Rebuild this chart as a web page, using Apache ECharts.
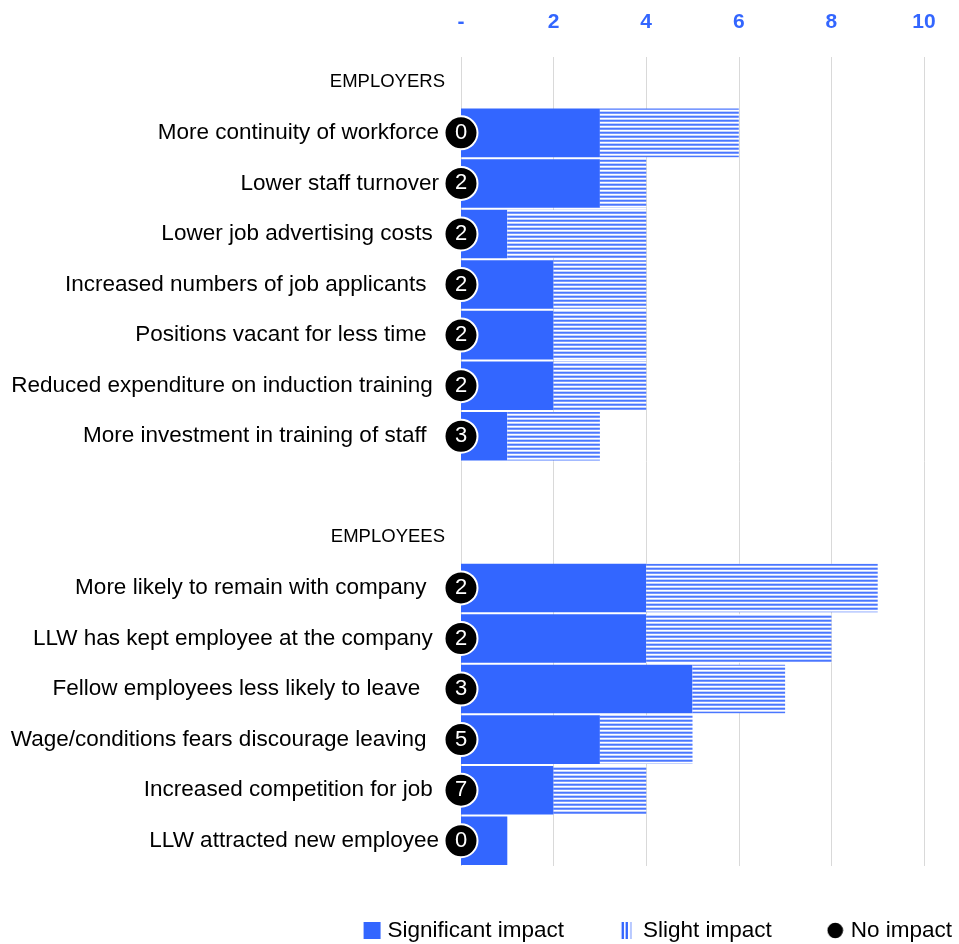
<!DOCTYPE html>
<html>
<head>
<meta charset="utf-8">
<script src="https://cdn.jsdelivr.net/npm/echarts@6/dist/echarts.min.js"></script>
<style>
  html, body { margin: 0; padding: 0; background: #fff; }
  #chart { width: 959px; height: 944px; }
</style>
</head>
<body>
<div id="chart"></div>
<script>
// Rows top to bottom; section headers and the spacer row carry no bars.
const categories = [
  'EMPLOYERS',
  'More continuity of workforce',
  'Lower staff turnover',
  'Lower job advertising costs ',
  'Increased numbers of job applicants  ',
  'Positions vacant for less time  ',
  'Reduced expenditure on induction training ',
  'More investment in training of staff  ',
  '',
  'EMPLOYEES',
  'More likely to remain with company  ',
  'LLW has kept employee at the company ',
  'Fellow employees less likely to leave   ',
  'Wage/conditions fears discourage leaving  ',
  'Increased competition for job ',
  'LLW attracted new employee'
];
const headers = ['EMPLOYERS', 'EMPLOYEES'];

const significant = [null, 3, 3, 1, 2, 2, 2, 1, null, null, 4, 4, 5, 3, 2, 1];
const slight      = [null, 3, 1, 3, 2, 2, 2, 2, null, null, 5, 4, 2, 2, 2, 0];
const noImpact    = [null, 0, 2, 2, 2, 2, 2, 3, null, null, 2, 2, 3, 5, 7, 0];

const xTicks = ['-', '2', '4', '6', '8', '10'];

const BLUE = '#3366ff';

// Horizontal stripe fill for "Slight impact"
const stripeH = document.createElement('canvas');
stripeH.width = 4; stripeH.height = 4;
(function () {
  const g = stripeH.getContext('2d');
  ['#4a77ff', '#7a99ff', '#ffffff', '#c2d1ff'].forEach((col, i) => {
    g.fillStyle = col; g.fillRect(0, i, 4, 1);
  });
})();

// Legend icon: vertical stripes
const iconC = document.createElement('canvas');
iconC.width = 17; iconC.height = 17;
(function () {
  const g = iconC.getContext('2d');
  [[1, '#b8c9ff'], [2, BLUE], [3, BLUE], [4, '#ffffff'], [5, '#b8c9ff'], [6, BLUE], [7, BLUE], [8, '#ffffff'], [9, '#ffffff'], [10, '#b8c9ff'], [11, '#b8c9ff']].forEach(([x, col]) => {
    g.fillStyle = col; g.fillRect(x + 1, 0, 1, 17);
  });
})();

// Legend icon: black dot
const dotC = document.createElement('canvas');
dotC.width = 17; dotC.height = 17;
(function () {
  const g = dotC.getContext('2d');
  g.fillStyle = '#000';
  g.beginPath(); g.arc(8.5, 8.5, 7.8, 0, Math.PI * 2); g.fill();
})();

const chart = echarts.init(document.getElementById('chart'));

const FONT = '"Liberation Sans", Arial, sans-serif';

chart.setOption({
  animation: false,
  backgroundColor: '#ffffff',
  textStyle: { fontFamily: FONT },
  grid: { left: 461, right: 35, top: 57, bottom: 78, containLabel: false },
  xAxis: {
    type: 'value',
    position: 'top',
    min: 0,
    max: 10,
    interval: 2,
    axisLine: { show: false },
    axisTick: { show: false },
    splitLine: { show: true, lineStyle: { color: '#d9d9d9', width: 1 } },
    axisLabel: {
      margin: 24,
      fontFamily: FONT,
      fontSize: 21,
      fontWeight: 'bold',
      color: (v) => (v === 0 ? '#000' : BLUE),
      formatter: (v) => xTicks[Math.round(v / 2)]
    }
  },
  yAxis: {
    type: 'category',
    inverse: true,
    data: categories,
    axisLine: { show: false },
    axisTick: { show: false },
    axisLabel: {
      margin: 22,
      fontFamily: FONT,
      fontSize: 22.5,
      color: '#000',
      formatter: (v) => (headers.includes(v) ? '{h|' + v + '}' : v),
      rich: {
        h: { fontFamily: FONT, fontSize: 18.5, color: '#000', padding: [0, -6, 0, 0] }
      }
    }
  },
  legend: {
    right: 2,
    top: 914,
    itemGap: 55,
    itemWidth: 17,
    itemHeight: 17,
    textStyle: { fontFamily: FONT, fontSize: 22.5, color: '#000', padding: [0, 0, 0, 2] },
    data: [
      { name: 'Significant impact', icon: 'rect', itemStyle: { color: BLUE } },
      { name: 'Slight impact', icon: 'image://' + iconC.toDataURL() },
      { name: 'No impact', icon: 'image://' + dotC.toDataURL() }
    ]
  },
  series: [
    {
      name: 'Significant impact',
      type: 'bar',
      stack: 'impact',
      barCategoryGap: 2,
      data: significant,
      itemStyle: { color: BLUE },
      z: 2
    },
    {
      name: 'Slight impact',
      type: 'bar',
      stack: 'impact',
      barCategoryGap: 2,
      data: slight,
      itemStyle: { color: { image: stripeH, repeat: 'repeat' } },
      z: 2
    },
    {
      name: 'No impact',
      type: 'scatter',
      symbol: 'circle',
      symbolSize: 33,
      data: noImpact.map((n, i) => (n === null ? null : [0, i, n])),
      itemStyle: { color: '#000', borderColor: '#fff', borderWidth: 2, opacity: 1 },
      label: {
        show: true,
        position: 'inside',
        color: '#fff',
        fontFamily: FONT,
        fontSize: 22,
        formatter: (p) => String(p.value[2])
      },
      z: 5
    }
  ]
});
</script>
</body>
</html>
